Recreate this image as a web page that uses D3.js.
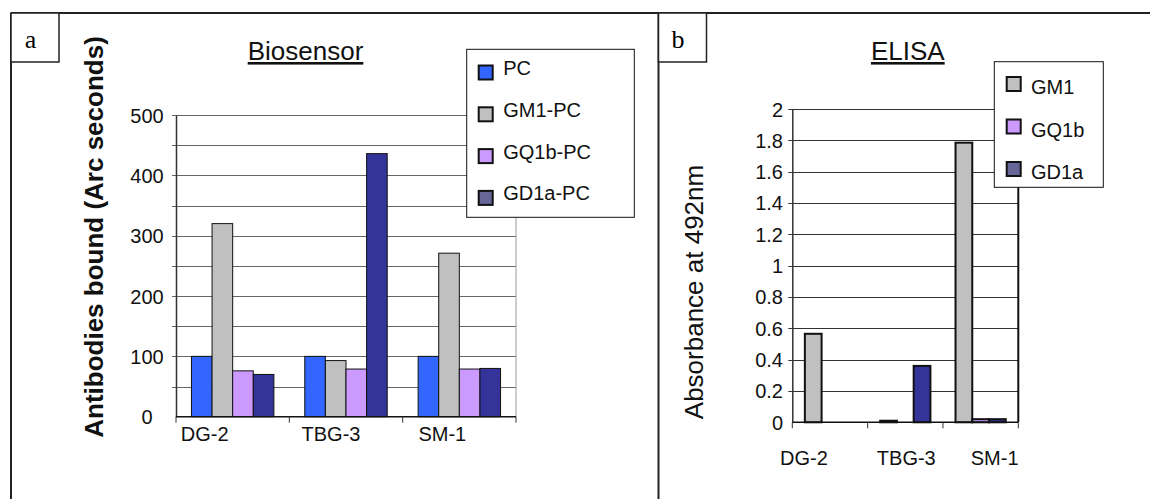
<!DOCTYPE html>
<html>
<head>
<meta charset="utf-8">
<script src="https://cdn.jsdelivr.net/npm/d3@7"></script>
<style>
  html, body { margin: 0; padding: 0; background: #fff; }
  svg { display: block; font-family: "Liberation Sans", Arial, sans-serif; }
</style>
</head>
<body>
<svg id="chart" width="1150" height="499"></svg>
<script>
// ---------- data ----------
const categories = ["DG-2", "TBG-3", "SM-1"];

// Panel a: Biosensor (Arc seconds)
const bioSeries = ["PC", "GM1-PC", "GQ1b-PC", "GD1a-PC"];
const bioPC   = [100, 100, 100];
const bioGM1  = [320, 93, 271];
const bioGQ1b = [76, 79, 79];
const bioGD1a = [70, 436, 80];
const bioTicks = [0, 100, 200, 300, 400, 500];

// Panel b: ELISA (Absorbance at 492nm)
const elisaSeries = ["GM1", "GQ1b", "GD1a"];
const elisaGM1  = [0.565, 0.01, 1.785];
const elisaGQ1b = [0, 0, 0.02];
const elisaGD1a = [0, 0.36, 0.02];
const elisaTicks = [0, 0.2, 0.4, 0.6, 0.8, 1, 1.2, 1.4, 1.6, 1.8, 2];

// ---------- drawing ----------
const svg = d3.select("#chart");
const barFill = {"PC": "#3366ff", "GM1-PC": "#c0c0c0", "GQ1b-PC": "#cc99ff", "GD1a-PC": "#333399",
                 "GM1": "#c0c0c0", "GQ1b": "#cc99ff", "GD1a": "#333399"};
const legendFill = {"PC": "#3366ff", "GM1-PC": "#c0c0c0", "GQ1b-PC": "#cc99ff", "GD1a-PC": "#666699",
                    "GM1": "#c0c0c0", "GQ1b": "#cc99ff", "GD1a": "#666699"};

// frame
const frame = svg.append("g").attr("stroke", "#222").attr("stroke-width", 2).attr("fill", "none");
frame.append("line").attr("x1", 11).attr("x2", 1150).attr("y1", 13).attr("y2", 13);
frame.append("line").attr("x1", 11).attr("x2", 11).attr("y1", 13).attr("y2", 499);
frame.append("line").attr("x1", 658.5).attr("x2", 658.5).attr("y1", 13).attr("y2", 499);

function labelBox(x, letter) {
  svg.append("rect").attr("x", x).attr("y", 13).attr("width", 48).attr("height", 49)
    .attr("fill", "#fff").attr("stroke", "#222").attr("stroke-width", 1.5);
  svg.append("text").attr("x", x + 19.5).attr("y", 48).attr("text-anchor", "middle")
    .attr("font-family", "Liberation Serif, Times New Roman, serif").attr("font-size", 26)
    .text(letter);
}
labelBox(11, "a");
labelBox(658.5, "b");

function panel(opts) {
  const g = svg.append("g");
  const x0 = d3.scaleBand().domain(categories).range([opts.left, opts.right]).padding(0);
  const y = d3.scaleLinear().domain(opts.domain).range([opts.bottom, opts.top]);
  const n = opts.series.length;
  const bw = x0.bandwidth();
  const w = bw / (n + 1.5);
  const x1 = d3.scaleBand().domain(opts.series)
    .range([bw * 0.75 / (n + 1.5), bw * 0.75 / (n + 1.5) + n * w]).padding(0);

  // gridlines
  g.append("g").selectAll("line").data(opts.grid).join("line")
    .attr("x1", opts.left - opts.tickLen).attr("x2", opts.right)
    .attr("y1", d => Math.round(y(d)) + 0.5).attr("y2", d => Math.round(y(d)) + 0.5)
    .attr("stroke", opts.gridColor).attr("stroke-width", 1);

  // right plot edge
  g.append("line").attr("x1", opts.right).attr("x2", opts.right)
    .attr("y1", opts.top).attr("y2", opts.bottom)
    .attr("stroke", opts.rightColor).attr("stroke-width", opts.rightWidth);

  // bars
  const rows = [];
  categories.forEach((c, i) => opts.series.forEach((s, j) => {
    const v = opts.values[j][i];
    if (v > 0) rows.push({c, s, v});
  }));
  g.append("g").selectAll("rect").data(rows).join("rect")
    .attr("x", d => x0(d.c) + x1(d.s))
    .attr("width", x1.bandwidth())
    .attr("y", d => y(d.v))
    .attr("height", d => y(0) - y(d.v))
    .attr("fill", d => barFill[d.s])
    .attr("stroke", "#111").attr("stroke-width", opts.barStroke);

  // y axis
  const yAxis = d3.axisLeft(y).tickValues(opts.ticks).tickSize(0).tickFormat(d3.format("~g"));
  const ya = g.append("g").attr("transform", `translate(${opts.left},0)`).call(yAxis);
  ya.select(".domain").attr("stroke", "#333").attr("stroke-width", 1.5);
  ya.selectAll("text").attr("font-size", 20).attr("fill", "#111")
    .attr("font-family", "Liberation Sans, Arial, sans-serif")
    .attr("x", opts.tickLabelX - opts.left).attr("text-anchor", opts.tickAnchor).attr("dy", "0.35em");

  // x axis
  g.append("line").attr("x1", opts.left).attr("x2", opts.right)
    .attr("y1", opts.bottom).attr("y2", opts.bottom).attr("stroke", "#111").attr("stroke-width", 1.5);
  const bounds = categories.map(c => x0(c)).concat([opts.right]);
  g.append("g").selectAll("line").data(bounds).join("line")
    .attr("x1", d => d).attr("x2", d => d)
    .attr("y1", opts.bottom).attr("y2", opts.bottom + 6)
    .attr("stroke", "#333").attr("stroke-width", 1);
  g.append("g").selectAll("text").data(categories).join("text")
    .attr("x", (d, i) => x0(d) + bw / 2 + opts.catDx[i])
    .attr("y", opts.catY).attr("text-anchor", "middle")
    .attr("font-size", 20).attr("fill", "#111").text(d => d);

  // title
  const t = g.append("text").attr("x", opts.titleX).attr("y", 60).attr("text-anchor", "middle")
    .attr("font-size", 26).attr("fill", "#111").attr("text-decoration", "underline").text(opts.title);

  // y title
  g.append("text").attr("transform", `translate(${opts.yTitleX},${opts.yTitleY}) rotate(-90)`)
    .attr("text-anchor", "middle").attr("font-size", 26).attr("font-weight", opts.yTitleWeight)
    .attr("fill", "#111").text(opts.yTitle);

  // legend
  const L = opts.legend;
  g.append("rect").attr("x", L.x).attr("y", L.y).attr("width", L.w).attr("height", L.h)
    .attr("fill", "#fff").attr("stroke", "#111").attr("stroke-width", 1);
  const li = g.append("g").selectAll("g").data(opts.series).join("g")
    .attr("transform", (d, i) => `translate(${L.x},${L.firstCy + i * L.step})`);
  li.append("rect").attr("x", L.swX).attr("y", -7).attr("width", 14).attr("height", 14)
    .attr("fill", d => legendFill[d]).attr("stroke", "#111").attr("stroke-width", 2);
  li.append("text").attr("x", L.txX).attr("y", L.txDy).attr("font-size", 20).attr("fill", "#111").text(d => d);
}

panel({
  left: 176, right: 516, top: 115, bottom: 416.7,
  domain: [0, 500], ticks: bioTicks, grid: d3.range(50, 501, 50),
  series: bioSeries, values: [bioPC, bioGM1, bioGQ1b, bioGD1a],
  gridColor: "#666", rightColor: "#999", rightWidth: 1, barStroke: 1,
  tickLen: 4, tickLabelX: 147, tickAnchor: "middle",
  catDx: [-28, -15, -17], catY: 441,
  title: "Biosensor", titleX: 305.5,
  yTitle: "Antibodies bound (Arc seconds)", yTitleX: 103, yTitleY: 237, yTitleWeight: "bold",
  legend: {x: 466.7, y: 49.3, w: 167.6, h: 168, firstCy: 72.5, step: 41.8, swX: 12, txX: 36.5, txDy: 2.5}
});

panel({
  left: 792.3, right: 1018.3, top: 109, bottom: 422.3,
  domain: [0, 2], ticks: elisaTicks, grid: elisaTicks.filter(d => d > 0),
  series: elisaSeries, values: [elisaGM1, elisaGQ1b, elisaGD1a],
  gridColor: "#333", rightColor: "#111", rightWidth: 2, barStroke: 2,
  tickLen: 4, tickLabelX: 783, tickAnchor: "end",
  catDx: [-26, 1, 14], catY: 465,
  title: "ELISA", titleX: 907.8,
  yTitle: "Absorbance at 492nm", yTitleX: 703, yTitleY: 292, yTitleWeight: "normal",
  legend: {x: 994.3, y: 61.7, w: 109, h: 125.6, firstCy: 84, step: 42.5, swX: 12.4, txX: 36.7, txDy: 10}
});
</script>
</body>
</html>
